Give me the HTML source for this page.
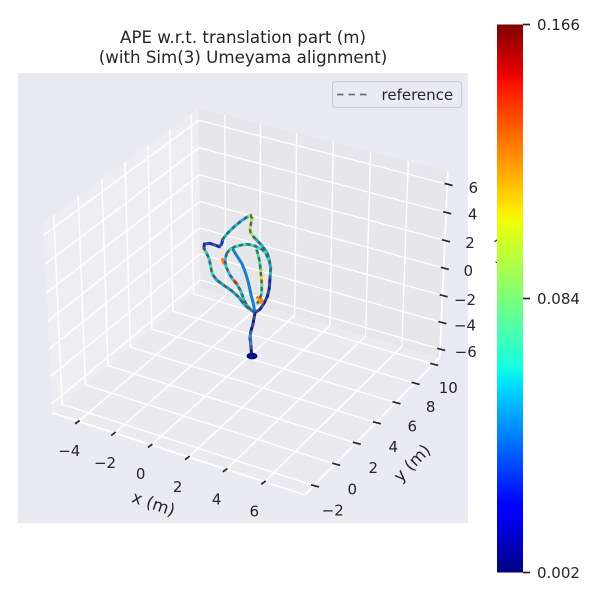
<!DOCTYPE html>
<html><head><meta charset="utf-8"><style>
html,body{margin:0;padding:0;background:#fff;}
svg{display:block;}
text{font-family:"DejaVu Sans","Liberation Sans",sans-serif;fill:#262626;}
</style></head><body>
<svg width="600" height="600" viewBox="0 0 600 600" xmlns="http://www.w3.org/2000/svg">
<defs>
<linearGradient id="jet" x1="0" y1="1" x2="0" y2="0">
<stop offset="0" stop-color="#000080"/>
<stop offset="0.11" stop-color="#0000ff"/>
<stop offset="0.125" stop-color="#0000ff"/>
<stop offset="0.34" stop-color="#00dbff"/>
<stop offset="0.35" stop-color="#00e6f7"/>
<stop offset="0.375" stop-color="#15ffe2"/>
<stop offset="0.64" stop-color="#eeff08"/>
<stop offset="0.65" stop-color="#f7f600"/>
<stop offset="0.66" stop-color="#ffec00"/>
<stop offset="0.89" stop-color="#ff1300"/>
<stop offset="0.91" stop-color="#e80000"/>
<stop offset="1" stop-color="#800000"/>
</linearGradient>
</defs>
<rect x="0" y="0" width="600" height="600" fill="#ffffff"/>
<text x="243" y="43" font-size="16.67" text-anchor="middle">APE w.r.t. translation part (m)</text>
<text x="243" y="63" font-size="16.67" text-anchor="middle">(with Sim(3) Umeyama alignment)</text>
<rect x="18" y="73" width="450" height="450" fill="#eaeaf2"/>
<polygon points="52.1,412.7 200.6,288.1 198.6,108.0 43.3,222.1" fill="#eeeef2"/>
<polygon points="200.6,288.1 439.7,357.5 447.8,171.5 198.6,108.0" fill="#e6e6eb"/>
<polygon points="52.1,412.7 304.9,494.9 439.7,357.5 200.6,288.1" fill="#ebebef"/>
<g stroke="#ffffff" stroke-width="1.4" fill="none">
<line x1="62.1" y1="404.3" x2="53.8" y2="214.4"/>
<line x1="85.4" y1="384.8" x2="78.2" y2="196.5"/>
<line x1="108.1" y1="365.7" x2="101.9" y2="179.0"/>
<line x1="130.2" y1="347.1" x2="125.1" y2="162.0"/>
<line x1="151.8" y1="329.0" x2="147.7" y2="145.4"/>
<line x1="172.9" y1="311.3" x2="169.7" y2="129.2"/>
<line x1="193.5" y1="294.0" x2="191.2" y2="113.4"/>
<line x1="51.5" y1="404.0" x2="200.5" y2="280.0"/>
<line x1="50.2" y1="376.7" x2="200.2" y2="254.1"/>
<line x1="49.0" y1="349.1" x2="199.9" y2="228.0"/>
<line x1="47.7" y1="321.1" x2="199.6" y2="201.6"/>
<line x1="46.3" y1="292.8" x2="199.3" y2="174.8"/>
<line x1="45.0" y1="264.1" x2="199.0" y2="147.7"/>
<line x1="43.7" y1="235.0" x2="198.7" y2="120.3"/>
<line x1="225.7" y1="295.4" x2="224.8" y2="114.6"/>
<line x1="260.0" y1="305.3" x2="260.4" y2="123.7"/>
<line x1="294.7" y1="315.4" x2="296.6" y2="133.0"/>
<line x1="329.9" y1="325.6" x2="333.3" y2="142.3"/>
<line x1="365.6" y1="336.0" x2="370.5" y2="151.8"/>
<line x1="401.8" y1="346.5" x2="408.3" y2="161.4"/>
<line x1="200.5" y1="280.0" x2="440.2" y2="349.1"/>
<line x1="200.2" y1="254.1" x2="441.4" y2="322.4"/>
<line x1="199.9" y1="228.0" x2="442.6" y2="295.5"/>
<line x1="199.6" y1="201.6" x2="443.8" y2="268.1"/>
<line x1="199.3" y1="174.8" x2="445.0" y2="240.5"/>
<line x1="199.0" y1="147.7" x2="446.2" y2="212.5"/>
<line x1="198.7" y1="120.3" x2="447.5" y2="184.2"/>
<line x1="78.6" y1="421.3" x2="225.7" y2="295.4"/>
<line x1="114.7" y1="433.0" x2="260.0" y2="305.3"/>
<line x1="151.4" y1="445.0" x2="294.7" y2="315.4"/>
<line x1="188.6" y1="457.1" x2="329.9" y2="325.6"/>
<line x1="226.4" y1="469.3" x2="365.6" y2="336.0"/>
<line x1="264.7" y1="481.8" x2="401.8" y2="346.5"/>
<line x1="62.1" y1="404.3" x2="314.0" y2="485.6"/>
<line x1="85.4" y1="384.8" x2="335.2" y2="464.0"/>
<line x1="108.1" y1="365.7" x2="355.8" y2="443.0"/>
<line x1="130.2" y1="347.1" x2="375.9" y2="422.5"/>
<line x1="151.8" y1="329.0" x2="395.5" y2="402.5"/>
<line x1="172.9" y1="311.3" x2="414.6" y2="383.1"/>
<line x1="193.5" y1="294.0" x2="433.2" y2="364.1"/>
</g>
<g stroke="#ffffff" stroke-width="1.7" fill="none">
<line x1="52.1" y1="412.7" x2="304.9" y2="494.9"/>
<line x1="304.9" y1="494.9" x2="439.7" y2="357.5"/>
<line x1="439.7" y1="357.5" x2="447.8" y2="171.5"/>
</g>
<g fill="none" stroke-width="3" stroke-linejoin="round" stroke-linecap="round">
<polyline stroke="#0a18a8" points="251.7,356.7 251,346.7 250,338.3 250.7,331.7 252.7,325 254,318.3 255,312.7"/>
<polyline stroke="#2a90e0" points="251,344 250.5,338 250.4,333"/>
<polyline stroke="#1aa8c0" points="255,312.7 248.3,308.3 243.3,303.3 238.3,296.7 231.7,290.7 223.3,285 216.7,280 212.3,274"/>
<polyline stroke="#3cd0c0" points="212.3,274 210.7,266.7 209.3,259.3 206.7,253.3 204,248.3"/>
<polyline stroke="#0a28d0" points="204,248.3 204.3,244 209.3,243.3 215,245 219.3,246.7 221.7,244 222.7,239.3"/>
<polyline stroke="#22b4d8" points="222.7,239.3 226,235 230,230.7 235,226 240.7,221.3 246.7,217.3 250.7,215.3"/>
<polyline stroke="#a8e060" points="250.7,215.3 252,218.3 251,223.3 250,229.3 250.7,233.3 254,237.3"/>
<polyline stroke="#28b0c8" points="254,237.3 258.3,241.7 263.3,247.3 267.3,253.3 269.3,260 270.7,268.3 270,278.3"/>
<polyline stroke="#0a22b8" points="270,278.3 269.3,288.3 267.3,296.7 264,303.3 260,309.3 255,312.7"/>
<polyline stroke="#36d8c8" points="226.7,253.3 230,249.3 235,246.7 241.7,245 248.3,244.3 255,246 261.7,249.3 266,253.3 268.3,260"/>
<polyline stroke="#30c0d8" points="226.7,253.3 225,260 226,266.7 229.3,274 233.3,280 237.3,285 240.7,290.7 243.3,298.3 246.7,305 251.7,310.7"/>
<polyline stroke="#1880d0" points="233.3,250 237,256 241.7,263.3 244.5,270 246.7,276.7 248.5,283 250,290 251.5,297 253.3,303.3 254.5,310"/>
<polyline stroke="#50dca0" points="256.7,250 258.3,255 259.3,260 260.2,266 260.7,271.7 261.7,283.3 261.7,293.3 259.3,300 257.3,303.3"/>
<polyline stroke="#e0e020" points="260.7,271.7 261.5,277 261.7,283.3"/>
<polyline stroke="#ff8c10" points="257.5,297.5 261.5,299.5 262,302.5 258,302"/>
<polyline stroke="#ff7010" points="222.5,259.5 224,263"/>
<polyline stroke="#ff5010" points="234.5,281 237,283.5"/>
<polyline stroke="#e8e040" points="249.5,215.8 252,217"/>
</g>
<g fill="none" stroke="#4e5658" stroke-opacity="0.9" stroke-width="2.4" stroke-dasharray="4 3.5" stroke-linejoin="round">
<polyline points="251.7,356.7 251,346.7 250,338.3 250.7,331.7 252.7,325 254,318.3 255,312.7 248.3,308.3 243.3,303.3 238.3,296.7 231.7,290.7 223.3,285 216.7,280 212.3,274 210.7,266.7 209.3,259.3 206.7,253.3 204,248.3 204.3,244 209.3,243.3 215,245 219.3,246.7 221.7,244 222.7,239.3 226,235 230,230.7 235,226 240.7,221.3 246.7,217.3 250.7,215.3 252,218.3 251,223.3 250,229.3 250.7,233.3 254,237.3 258.3,241.7 263.3,247.3 267.3,253.3 269.3,260 270.7,268.3 270,278.3 269.3,288.3 267.3,296.7 264,303.3 260,309.3 255,312.7"/>
<polyline points="226.7,253.3 230,249.3 235,246.7 241.7,245 248.3,244.3 255,246 261.7,249.3 266,253.3 268.3,260"/>
<polyline points="226.7,253.3 225,260 226,266.7 229.3,274 233.3,280 237.3,285 240.7,290.7 243.3,298.3 246.7,305 251.7,310.7"/>
<polyline points="256.7,250 258.3,255 259.3,260 260.2,266 260.7,271.7 261.7,283.3 261.7,293.3 259.3,300 257.3,303.3"/>
</g>
<ellipse cx="252" cy="356" rx="5.5" ry="3.4" fill="#06107e"/>
<g stroke="#262626" stroke-width="1.7" fill="none">
<line x1="75.1" y1="423.8" x2="79.6" y2="420.4"/>
<line x1="111.2" y1="435.5" x2="115.7" y2="432.1"/>
<line x1="147.9" y1="447.5" x2="152.4" y2="444.1"/>
<line x1="185.1" y1="459.6" x2="189.6" y2="456.2"/>
<line x1="222.9" y1="471.8" x2="227.4" y2="468.4"/>
<line x1="261.2" y1="484.3" x2="265.7" y2="480.9"/>
<line x1="311" y1="484.8" x2="319" y2="486.9"/>
<line x1="332.2" y1="463.2" x2="340.2" y2="465.3"/>
<line x1="352.8" y1="442.2" x2="360.8" y2="444.3"/>
<line x1="372.9" y1="421.7" x2="380.9" y2="423.8"/>
<line x1="392.5" y1="401.7" x2="400.5" y2="403.8"/>
<line x1="411.6" y1="382.3" x2="419.6" y2="384.4"/>
<line x1="430.2" y1="363.3" x2="438.2" y2="365.4"/>
<line x1="437.2" y1="348.3" x2="445.2" y2="350.4"/>
<line x1="438.4" y1="321.6" x2="446.4" y2="323.7"/>
<line x1="439.6" y1="294.7" x2="447.6" y2="296.8"/>
<line x1="440.8" y1="267.3" x2="448.8" y2="269.4"/>
<line x1="442" y1="239.7" x2="450" y2="241.8"/>
<line x1="443.2" y1="211.7" x2="451.2" y2="213.8"/>
<line x1="444.5" y1="183.4" x2="452.5" y2="185.5"/>
</g>
<g font-size="15" text-anchor="middle">
<text x="69.3" y="456.2">−4</text>
<text x="105" y="467.8">−2</text>
<text x="140.7" y="478.8">0</text>
<text x="177.7" y="492.2">2</text>
<text x="216.7" y="504.5">4</text>
<text x="254.3" y="516.5">6</text>
<text x="332.7" y="515.5">−2</text>
<text x="352.3" y="494.5">0</text>
<text x="373.3" y="473.2">2</text>
<text x="393.3" y="452.2">4</text>
<text x="412.3" y="431.5">6</text>
<text x="430.7" y="412.2">8</text>
<text x="448.3" y="392.8">10</text>
<text x="473.3" y="193.2">6</text>
<text x="472.7" y="219.5">4</text>
<text x="470" y="248.2">2</text>
<text x="468.3" y="276.2">0</text>
<text x="465" y="304.8">−2</text>
<text x="465" y="330.5">−4</text>
<text x="465.7" y="357.2">−6</text>
</g>
<text x="0" y="0" font-size="16.67" text-anchor="middle" transform="translate(151.7,509) rotate(19)">x (m)</text>
<text x="0" y="0" font-size="16.67" text-anchor="middle" transform="translate(416,467) rotate(-45.5)">y (m)</text>
<text x="0" y="0" font-size="16.67" text-anchor="middle" transform="translate(508,258) rotate(-94)">z (m)</text>
<rect x="332.5" y="81.5" width="129" height="26" rx="3" ry="3" fill="#eaeaf2" fill-opacity="0.8" stroke="#cccccc" stroke-width="1"/>
<line x1="337" y1="94.5" x2="368.5" y2="94.5" stroke="#707070" stroke-width="1.7" stroke-dasharray="6.5 5"/>
<text x="381.5" y="99.8" font-size="15">reference</text>
<rect x="497" y="24.5" width="26" height="548" fill="url(#jet)"/>
<g stroke="#262626" stroke-width="1.7">
<line x1="523" y1="24.5" x2="530" y2="24.5"/>
<line x1="523" y1="298.5" x2="530" y2="298.5"/>
<line x1="523" y1="572.5" x2="530" y2="572.5"/>
</g>
<g font-size="15">
<text x="537" y="30">0.166</text>
<text x="537" y="304">0.084</text>
<text x="537" y="578">0.002</text>
</g>
</svg>
</body></html>
